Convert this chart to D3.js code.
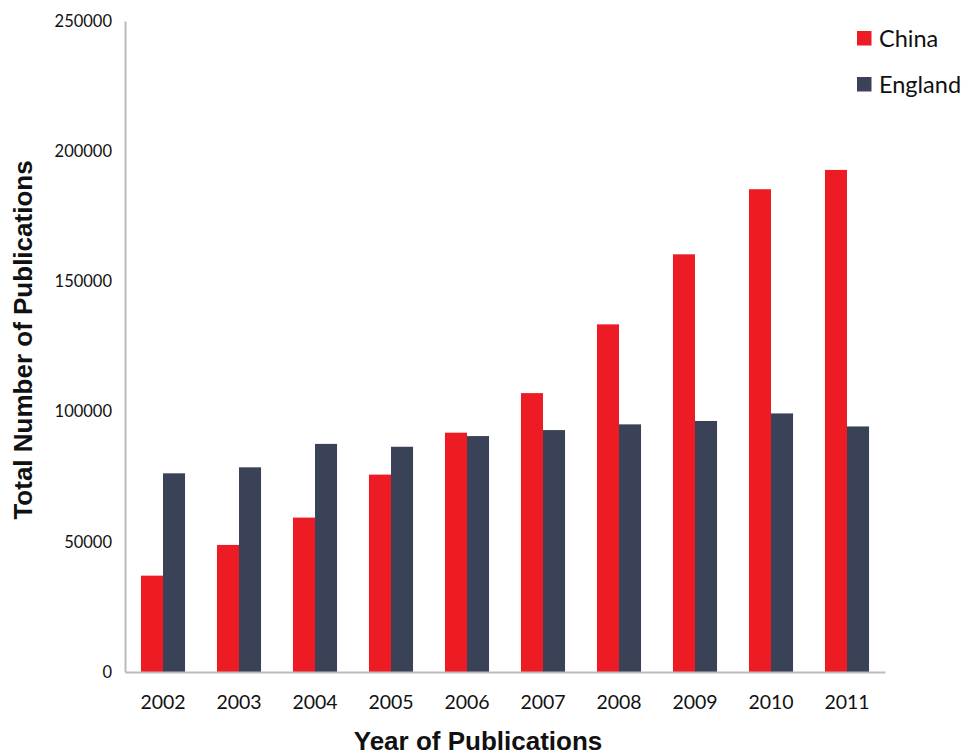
<!DOCTYPE html>
<html>
<head>
<meta charset="utf-8">
<script src="https://cdn.jsdelivr.net/npm/d3@7"></script>
<style>
  html, body { margin: 0; padding: 0; background: #ffffff; }
  svg { display: block; }
</style>
</head>
<body>
<svg id="chart" width="964" height="756"></svg>
<script>
// Annual publication counts, 2002–2011
const years = ["2002", "2003", "2004", "2005", "2006", "2007", "2008", "2009", "2010", "2011"];
const seriesNames = ["China", "England"];
const chinaValues = [37000, 48800, 59300, 75800, 91900, 107100, 133500, 160400, 185400, 192800];
const englandValues = [76300, 78600, 87600, 86500, 90600, 92900, 95100, 96400, 99300, 94300];
const yTicks = [0, 50000, 100000, 150000, 200000, 250000];
const seriesColors = ["#ED1C24", "#3A4257"];

const svg = d3.select("#chart");
const plot = { left: 125, right: 885, top: 21, bottom: 672 };
const labelFont = "Lato, 'Open Sans', sans-serif";
const titleFont = "'Liberation Sans', Arial, sans-serif";

const x = d3.scaleBand().domain(years).range([plot.left, plot.right]).paddingInner(0.42).paddingOuter(0.21);
const xInner = d3.scaleBand().domain(seriesNames).range([0, x.bandwidth()]);
const y = d3.scaleLinear().domain([0, 250000]).range([plot.bottom, plot.top]);

const rows = years.map((yr, i) => ({ year: yr, values: [chinaValues[i], englandValues[i]] }));

// bars
const groups = svg.append("g").selectAll("g").data(rows).join("g")
  .attr("transform", d => `translate(${x(d.year)},0)`);
groups.selectAll("rect")
  .data(d => d.values.map((v, j) => ({ name: seriesNames[j], value: v, color: seriesColors[j] })))
  .join("rect")
  .attr("x", d => xInner(d.name))
  .attr("width", xInner.bandwidth())
  .attr("y", d => y(d.value))
  .attr("height", d => y(0) - y(d.value))
  .attr("fill", d => d.color);

// y axis
const yAxis = svg.append("g").attr("transform", `translate(${plot.left},0)`)
  .call(d3.axisLeft(y).tickValues(yTicks).tickFormat(d3.format("d")).tickSize(0).tickPadding(13));
yAxis.select(".domain").attr("stroke", "#bdbaba").attr("stroke-width", 2);
yAxis.selectAll("text").attr("font-family", labelFont).attr("font-size", 16.5).attr("fill", "#111");

// x axis
const xAxis = svg.append("g").attr("transform", `translate(0,${plot.bottom})`)
  .call(d3.axisBottom(x).tickSize(0).tickPadding(23));
xAxis.select(".domain").attr("stroke", "#bdbaba").attr("stroke-width", 2);
xAxis.selectAll("text").attr("font-family", labelFont).attr("font-size", 19.5).attr("fill", "#111");

// axis titles
svg.append("text")
  .attr("x", 478).attr("y", 750)
  .attr("text-anchor", "middle")
  .attr("font-family", titleFont)
  .attr("font-weight", "bold").attr("font-size", 26).attr("fill", "#111")
  .text("Year of Publications");

svg.append("text")
  .attr("transform", "translate(32,340) rotate(-90)")
  .attr("text-anchor", "middle")
  .attr("font-family", titleFont)
  .attr("font-weight", "bold").attr("font-size", 26).attr("fill", "#111")
  .text("Total Number of Publications");

// legend
const legend = svg.append("g").selectAll("g").data(seriesNames).join("g")
  .attr("transform", (d, i) => `translate(857,${31 + i * 46})`);
legend.append("rect").attr("width", 14.5).attr("height", 14.5)
  .attr("fill", (d, i) => seriesColors[i]);
legend.append("text")
  .attr("x", 22).attr("y", 7.5).attr("dy", "0.35em")
  .attr("font-family", labelFont).attr("font-size", 23.5).attr("fill", "#111")
  .text(d => d);
</script>
</body>
</html>
